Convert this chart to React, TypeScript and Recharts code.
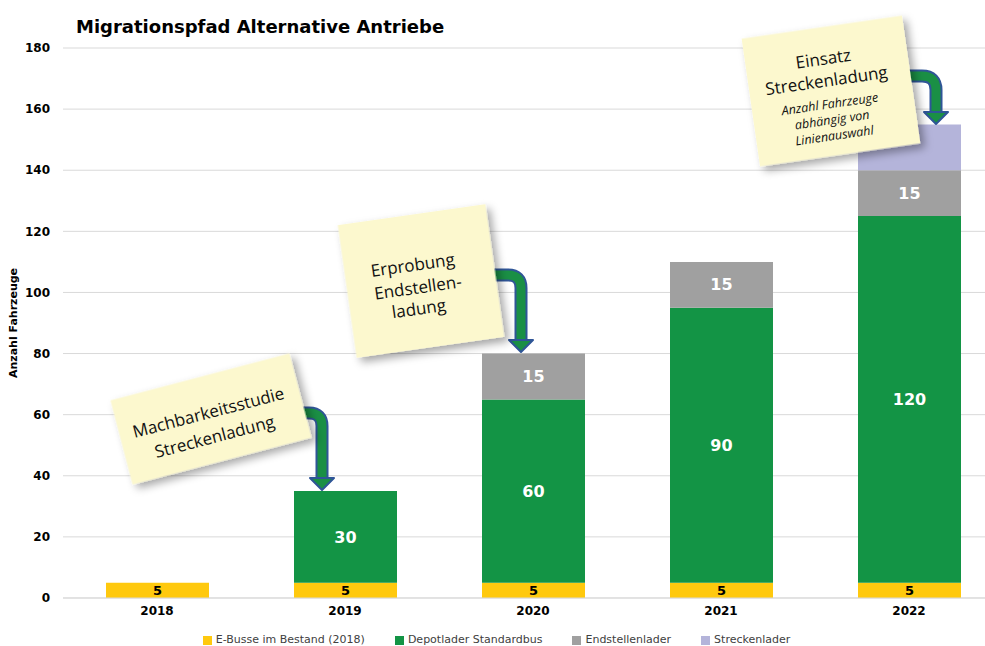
// Migrationspfad Alternative Antriebe – gestapelte Säulen mit Notizzetteln
import { BarChart, Bar, XAxis, YAxis, CartesianGrid, Legend, LabelList } from "recharts";

const years = ["2018", "2019", "2020", "2021", "2022"];
const eBusse = [5, 5, 5, 5, 5];
const depotlader = [0, 30, 60, 90, 120];
const endstellenlader = [0, 0, 15, 15, 15];
const streckenlader = [0, 0, 0, 0, 15];
const yTicks = [0, 20, 40, 60, 80, 100, 120, 140, 160, 180];
const seriesNames = ["E-Busse im Bestand (2018)", "Depotlader Standardbus", "Endstellenlader", "Streckenlader"];

const data = years.map((year, i) => ({
  year,
  eBusse: eBusse[i],
  depot: depotlader[i],
  endstellen: endstellenlader[i],
  strecken: streckenlader[i],
}));

const FONT = "'DejaVu Sans', Verdana, sans-serif";
const NOTE_FONT = "'Open Sans', 'Noto Sans', sans-serif";
const hideZero = (v: any) => (v ? v : "");

function Arrow({ d, head }: { d: string; head: string }) {
  return (
    <g>
      <path d={d} fill="none" stroke="#2F5597" strokeWidth={13} />
      <path d={d} fill="none" stroke="#1A8F45" strokeWidth={9} />
      <polygon points={head} fill="#1A8F45" stroke="#2F5597" strokeWidth={2} strokeLinejoin="round" />
    </g>
  );
}

function Note({
  cx, cy, w, h, angle, children,
}: { cx: number; cy: number; w: number; h: number; angle: number; children: any }) {
  return (
    <g transform={`translate(${cx},${cy}) rotate(${angle})`}>
      <rect x={-w / 2} y={-h / 2} width={w} height={h} fill="#FCF8CE" filter="url(#noteShadow)" />
      {children}
    </g>
  );
}

export default function App() {
  return (
    <div style={{ position: "absolute", left: 0, top: 0, width: 985, height: 646, overflow: "hidden", background: "#fff" }}>
      <BarChart
        width={1010}
        height={646}
        data={data}
        margin={{ top: 48, right: 7, left: 0, bottom: 0 }}
        barSize={103}
      >
        <CartesianGrid vertical={false} stroke="#D9D9D9" />
        <XAxis
          dataKey="year"
          axisLine={{ stroke: "#D9D9D9" }}
          tickLine={false}
          height={17}
          tick={{ fill: "#000", fontSize: 12, fontWeight: "bold", fontFamily: FONT }}
        />
        <YAxis
          width={63}
          domain={[0, 180]}
          ticks={yTicks}
          axisLine={false}
          tickLine={false}
          tickMargin={7}
          tick={{ fill: "#000", fontSize: 12, fontWeight: "bold", fontFamily: FONT }}
          label={{
            value: "Anzahl Fahrzeuge",
            angle: -90,
            position: "center",
            dx: -18,
            style: { fill: "#000", fontSize: 11, fontWeight: "bold", fontFamily: FONT },
          }}
        />
        <Legend
          verticalAlign="bottom"
          iconType="square"
          iconSize={9}
          itemSorter={(item: any) => seriesNames.indexOf(item.value)}
          wrapperStyle={{ fontFamily: FONT, fontSize: 11, paddingTop: 18 }}
          formatter={(v: any, _e: any, i: number) => (
            <span style={{ color: "#404040", marginRight: i < 3 ? 20 : 0 }}>{v}</span>
          )}
        />
        <Bar dataKey="eBusse" name={seriesNames[0]} stackId="a" fill="#FFC90E" isAnimationActive={false}>
          <LabelList dataKey="eBusse" position="center" formatter={hideZero} fill="#000" fontSize={13} fontWeight="bold" fontFamily={FONT} />
        </Bar>
        <Bar dataKey="depot" name={seriesNames[1]} stackId="a" fill="#139445" isAnimationActive={false}>
          <LabelList dataKey="depot" position="center" formatter={hideZero} fill="#fff" fontSize={16} fontWeight="bold" fontFamily={FONT} />
        </Bar>
        <Bar dataKey="endstellen" name={seriesNames[2]} stackId="a" fill="#A0A0A0" isAnimationActive={false}>
          <LabelList dataKey="endstellen" position="center" formatter={hideZero} fill="#fff" fontSize={16} fontWeight="bold" fontFamily={FONT} />
        </Bar>
        <Bar dataKey="strecken" name={seriesNames[3]} stackId="a" fill="#B4B4DA" isAnimationActive={false} />
      </BarChart>

      <svg width={985} height={646} style={{ position: "absolute", left: 0, top: 0, pointerEvents: "none" }}>
        <defs>
          <filter id="noteShadow" x="-20%" y="-20%" width="150%" height="150%">
            <feDropShadow dx={4} dy={5} stdDeviation={4} floodColor="#000" floodOpacity={0.35} />
          </filter>
        </defs>
        <text x={76} y={33} fontFamily={FONT} fontSize={18} fontWeight="bold" fill="#000">
          Migrationspfad Alternative Antriebe
        </text>

        <Arrow d="M 295 413 L 309 413 Q 322 413 322 426 L 322 478" head="310,478 334,478 322,490" />
        <Arrow d="M 490 275 L 508 275 Q 521 275 521 288 L 521 340" head="509,340 533,340 521,352" />
        <Arrow d="M 900 76 L 922 76 Q 936 76 936 90 L 936 112" head="924,112 948,112 936,124" />

        <Note cx={211} cy={419} w={185} h={87} angle={-14.7}>
          <text textAnchor="middle" fontFamily={NOTE_FONT} fontSize={17} fill="#111">
            <tspan x={-1} y={-1}>Machbarkeitsstudie</tspan>
            <tspan x={-1} y={24}>Streckenladung</tspan>
          </text>
        </Note>
        <Note cx={421} cy={281} w={149} h={134} angle={-8.1}>
          <text textAnchor="middle" fontFamily={NOTE_FONT} fontSize={17} fill="#111">
            <tspan x={-6} y={-11}>Erprobung</tspan>
            <tspan x={-4} y={12}>Endstellen-</tspan>
            <tspan x={-6} y={33}>ladung</tspan>
          </text>
        </Note>
        <Note cx={831} cy={91} w={162} h={129} angle={-8.2}>
          <text textAnchor="middle" fontFamily={NOTE_FONT} fill="#111">
            <tspan x={-3} y={-27} fontSize={17}>Einsatz</tspan>
            <tspan x={-3} y={-5} fontSize={17}>Streckenladung</tspan>
            <tspan x={-3} y={17} fontSize={12.5} fontStyle="italic">Anzahl Fahrzeuge</tspan>
            <tspan x={-3} y={33} fontSize={12.5} fontStyle="italic">abhängig von</tspan>
            <tspan x={-3} y={49} fontSize={12.5} fontStyle="italic">Linienauswahl</tspan>
          </text>
        </Note>
      </svg>
    </div>
  );
}
